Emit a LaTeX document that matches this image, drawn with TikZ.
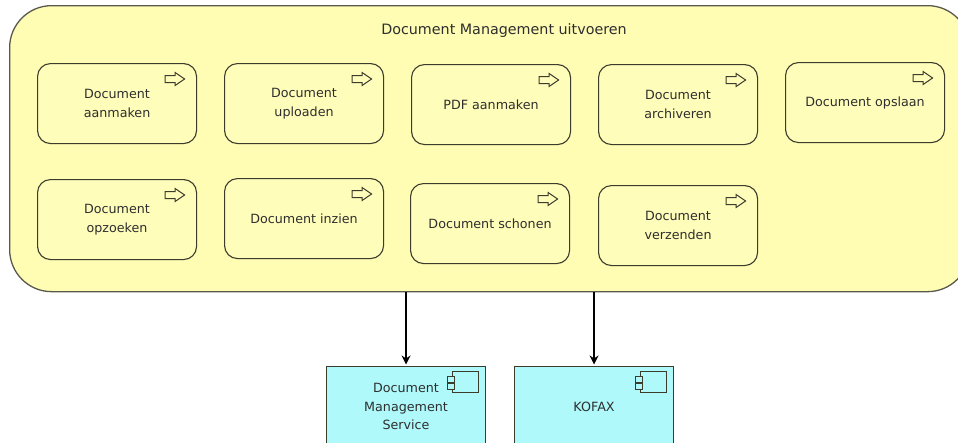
\documentclass[tikz,border=0pt]{standalone}
\usepackage{fontspec}
\setmainfont{DejaVu Sans}
\usetikzlibrary{arrows.meta}
\definecolor{outerfill}{HTML}{FFFCB4}
\definecolor{innerfill}{HTML}{FFFDBA}
\definecolor{compfill}{HTML}{AFF9FB}
\definecolor{edge}{HTML}{3C3C2C}
\definecolor{labelc}{HTML}{2E2E2E}
\tikzset{
  x=1pt,y=-1pt,
  outerbox/.style={draw=edge!85,fill=outerfill,line width=1.3pt,rounded corners=42pt,minimum width=960pt,minimum height=286pt,anchor=north west,inner sep=0pt},
  taskbox/.style={draw=edge,fill=innerfill,line width=1.1pt,rounded corners=13pt,minimum width=159pt,minimum height=80pt,anchor=north west,align=center,inner sep=2pt,font=\fontsize{12.7pt}{18.8pt}\selectfont,text=labelc},
  compbox/.style={draw=edge,fill=compfill,line width=1.1pt,minimum width=159pt,minimum height=80pt,anchor=north west,align=center,inner sep=2pt,font=\fontsize{12.7pt}{18.8pt}\selectfont,text=labelc},
  titletext/.style={font=\fontsize{14.3pt}{16pt}\selectfont,text=labelc,inner sep=0pt},
  flow/.style={draw=black,line width=1.6pt,-{Stealth[length=9pt,width=9pt]},shorten >=1.5pt},
  icon/.style={draw=edge,line width=1pt},
  taskarrow/.pic={\draw[icon,line join=miter] (-32,12.5) -- (-22,12.5) -- (-22,9.5) -- (-12.5,16) -- (-22,22.5) -- (-22,19.5) -- (-32,19.5) -- cycle;},
  compicon/.pic={\draw[icon] (-34,5) rectangle (-8,26);
    \draw[icon,fill=compfill] (-39,10) rectangle (-32,16);
    \draw[icon,fill=compfill] (-39,17) rectangle (-32,23);},
}
\begin{document}
\begin{tikzpicture}
\useasboundingbox (0,0) rectangle (958,442);
\clip (0,0) rectangle (958,442);
\node[outerbox] (outer) at (9,5) {};
\node[titletext] (title) at (504,31) {Document Management uitvoeren};
\node[taskbox] (t1) at (37,63) {Document\\aanmaken};
\node[taskbox] (t2) at (224,63) {Document\\uploaden};
\node[taskbox] (t3) at (411,64) {PDF aanmaken};
\node[taskbox] (t4) at (598,64) {Document\\archiveren};
\node[taskbox] (t5) at (785,62) {Document opslaan};
\node[taskbox] (t6) at (37,179) {Document\\opzoeken};
\node[taskbox] (t7) at (224,178) {Document inzien};
\node[taskbox] (t8) at (410,183) {Document schonen};
\node[taskbox] (t9) at (598,185) {Document\\verzenden};
\foreach \n in {t1,t2,t3,t4,t5,t6,t7,t8,t9}
  \pic at (\n.north east) {taskarrow};
\node[compbox] (dms) at (326,366) {Document\\Management\\Service};
\node[compbox] (kofax) at (514,366) {KOFAX};
\pic at (dms.north east) {compicon};
\pic at (kofax.north east) {compicon};
\draw[flow] (outer.south -| dms.north) -- (dms.north);
\draw[flow] (outer.south -| kofax.north) -- (kofax.north);
\end{tikzpicture}
\end{document}
